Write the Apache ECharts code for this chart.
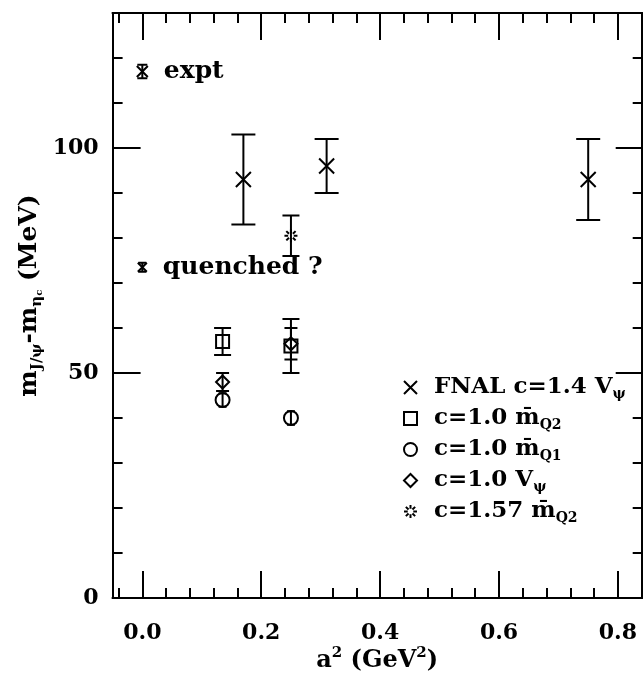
<!DOCTYPE html>
<html><head><meta charset="utf-8">
<script src="https://cdn.jsdelivr.net/npm/echarts@6/dist/echarts.min.js"></script>
<style>html,body{margin:0;padding:0;background:#fff}#c{width:643px;height:676px}</style>
</head><body><div id="c"></div>
<script>
// ---------- data ----------
const xMajorTicks = [0, 0.2, 0.4, 0.6, 0.8];
const xMinorTicks = [-0.04, 0.04, 0.08, 0.12, 0.16, 0.24, 0.28, 0.32, 0.36, 0.44, 0.48, 0.52, 0.56, 0.64, 0.68, 0.72, 0.76];
const yMajorTicks = [0, 50, 100];
const yMinorTicks = [10, 20, 30, 40, 60, 70, 80, 90, 110, 120];

const fnalX = [0.17, 0.31, 0.75];
const fnalY = [93, 96, 93];
const fnalErr = [10, 6, 9];

const sqX = [0.135, 0.25];
const sqY = [57, 56];
const sqErr = [3, 6];

const circX = [0.135, 0.25];
const circY = [44, 40];
const circErr = [1.5, 1.5];

const diaX = [0.135, 0.25];
const diaY = [48, 56.5];
const diaErr = [2, 3.5];

const c157X = [0.25];
const c157Y = [80.5];
const c157Err = [4.5];

const exptX = [0];
const exptY = [117];
const exptErr = [1.5];

const quenX = [0];
const quenY = [73.5];
const quenErr = [1];

const seriesNames = ['FNAL c=1.4 Vpsi', 'c=1.0 mQ2', 'c=1.0 mQ1', 'c=1.0 Vpsi', 'c=1.57 mQ2'];
const legendTexts = [
  '{t|FNAL c=1.4 V}{s|ψ}',
  '{t|c=1.0 m\u0304}{s|Q2}',
  '{t|c=1.0 m\u0304}{s|Q1}',
  '{t|c=1.0 V}{s|ψ}',
  '{t|c=1.57 m\u0304}{s|Q2}'
];

// ---------- style ----------
const FONT = 'DejaVu Serif';
const INK = '#000';
const CROSS = 'path://M0,0L10,10M10,0L0,10';
const BURST = 'path://M13,10L17,10M7,10L3,10M10,13L10,17M10,7L10,3M12.1,12.1L15,15M7.9,7.9L5,5M12.1,7.9L15,5M7.9,12.1L5,15';

function xAx(pos, ticks, len, withLabels, withName) {
  const a = {
    type: 'value', position: pos, min: -0.05, max: 0.84, offset: 0,
    axisLine: {show: true, onZero: false, lineStyle: {color: INK, width: 2}},
    axisTick: {show: true, inside: true, length: len, customValues: ticks, lineStyle: {color: INK, width: 2}},
    axisLabel: withLabels ? {show: true, customValues: ticks, margin: 24, formatter: v => v.toFixed(1),
      fontFamily: FONT, fontSize: 22, fontWeight: 'bold', color: INK} : {show: false},
    splitLine: {show: false}, minorTick: {show: false}
  };
  if (withName) {
    a.name = '{t|a}{p|2}{t| (GeV}{p|2}{t|)}';
    a.nameLocation = 'middle';
    a.nameGap = 48;
    a.nameMoveOverlap = false;
    a.nameTextStyle = {fontFamily: FONT, fontSize: 24, fontWeight: 'bold', color: INK,
      rich: {
        t: {fontFamily: FONT, fontSize: 24, fontWeight: 'bold', color: INK, lineHeight: 30},
        p: {fontFamily: FONT, fontSize: 15, fontWeight: 'bold', color: INK, lineHeight: 15, verticalAlign: 'top'}
      }};
  }
  return a;
}
function yAx(pos, ticks, len, withLabels, withName) {
  const a = {
    type: 'value', position: pos, min: 0, max: 130, offset: 0,
    axisLine: {show: true, onZero: false, lineStyle: {color: INK, width: 2}},
    axisTick: {show: true, inside: true, length: len, customValues: ticks, lineStyle: {color: INK, width: 2}},
    axisLabel: withLabels ? {show: true, customValues: ticks, margin: 14,
      fontFamily: FONT, fontSize: 22, fontWeight: 'bold', color: INK} : {show: false},
    splitLine: {show: false}, minorTick: {show: false}
  };
  if (withName) {
    a.name = '{t|m}{s|J/ψ}{t|-m}{s|η}{ss|c}{t| (MeV)}';
    a.nameLocation = 'middle';
    a.nameRotate = 90;
    a.nameGap = 68;
    a.nameMoveOverlap = false;
    a.nameTextStyle = {fontFamily: FONT, fontSize: 25, fontWeight: 'bold', color: INK, padding: [0, 0, 0, 20],
      rich: {
        t: {fontFamily: FONT, fontSize: 25, fontWeight: 'bold', color: INK, lineHeight: 30},
        s: {fontFamily: FONT, fontSize: 15, fontWeight: 'bold', color: INK, lineHeight: 15, verticalAlign: 'bottom'},
        ss: {fontFamily: FONT, fontSize: 10, fontWeight: 'bold', color: INK, lineHeight: 10, verticalAlign: 'bottom'}
      }};
  }
  return a;
}

function errSeries(xs, ys, es, capW) {
  return {
    type: 'custom', silent: true, z: 2,
    xAxisIndex: 0, yAxisIndex: 0,
    encode: {x: 0, y: 1},
    data: xs.map((x, i) => [x, ys[i], es[i]]),
    renderItem: function (params, api) {
      const x = api.value(0), y = api.value(1), e = api.value(2);
      const top = api.coord([x, y + e]);
      const bot = api.coord([x, y - e]);
      const h = capW / 2;
      const st = {stroke: INK, lineWidth: 2, fill: null};
      return {type: 'group', children: [
        {type: 'line', shape: {x1: top[0], y1: top[1], x2: bot[0], y2: bot[1]}, style: st},
        {type: 'line', shape: {x1: top[0] - h, y1: top[1], x2: top[0] + h, y2: top[1]}, style: st},
        {type: 'line', shape: {x1: bot[0] - h, y1: bot[1], x2: bot[0] + h, y2: bot[1]}, style: st}
      ]};
    }
  };
}
function markSeries(name, xs, ys, symbol, size, label) {
  const s = {
    type: 'scatter', name: name, silent: true, z: 3,
    xAxisIndex: 0, yAxisIndex: 0,
    data: xs.map((x, i) => [x, ys[i]]),
    symbol: symbol, symbolSize: size,
    itemStyle: {color: 'rgba(0,0,0,0)', borderColor: INK, borderWidth: 2, opacity: 1}
  };
  if (label) {
    s.label = {show: true, position: 'right', distance: 15, formatter: label,
      fontFamily: FONT, fontSize: 25, fontWeight: 'bold', color: INK};
  }
  return s;
}

const legendIcons = [CROSS, 'rect', 'circle', 'diamond', BURST];
const legendCenters = [390, 421, 452, 483, 514];
const legends = seriesNames.map((n, i) => ({
  show: true, selectedMode: false, orient: 'vertical',
  left: 403, top: legendCenters[i] - 14, padding: 0,
  itemWidth: 13, itemHeight: 13,
  data: [{name: n, icon: legendIcons[i]}],
  itemStyle: {color: 'rgba(0,0,0,0)', borderColor: INK, borderWidth: 2},
  formatter: () => legendTexts[i],
  textStyle: {fontFamily: FONT, fontSize: 23, fontWeight: 'bold', color: INK, padding: [0, 0, 0, 12],
    rich: {
      t: {fontFamily: FONT, fontSize: 23, fontWeight: 'bold', color: INK, lineHeight: 28},
      s: {fontFamily: FONT, fontSize: 14, fontWeight: 'bold', color: INK, lineHeight: 14, verticalAlign: 'bottom'}
    }}
}));

const chart = echarts.init(document.getElementById('c'), null, {renderer: 'canvas'});
chart.setOption({
  animation: false,
  backgroundColor: '#fff',
  grid: {left: 112.6, right: 1.3, top: 13, bottom: 78, containLabel: false, outerBoundsMode: 'none'},
  legend: legends,
  xAxis: [
    xAx('bottom', xMajorTicks, 27, true, true),
    xAx('bottom', xMinorTicks, 10, false, false),
    xAx('top', xMajorTicks, 27, false, false),
    xAx('top', xMinorTicks, 10, false, false)
  ],
  yAxis: [
    yAx('left', yMajorTicks, 28, true, true),
    yAx('left', yMinorTicks, 10, false, false),
    yAx('right', yMajorTicks, 26, false, false),
    yAx('right', yMinorTicks, 9, false, false)
  ],
  series: [
    errSeries(fnalX, fnalY, fnalErr, 24),
    errSeries(sqX, sqY, sqErr, 17),
    errSeries(circX, circY, circErr, 8),
    errSeries(diaX, diaY, diaErr, 13),
    errSeries(c157X, c157Y, c157Err, 17),
    errSeries(exptX, exptY, exptErr, 10),
    errSeries(quenX, quenY, quenErr, 8),
    markSeries(seriesNames[0], fnalX, fnalY, CROSS, 15),
    markSeries(seriesNames[1], sqX, sqY, 'rect', 13),
    markSeries(seriesNames[2], circX, circY, 'circle', 14),
    markSeries(seriesNames[3], diaX, diaY, 'diamond', 13),
    markSeries(seriesNames[4], c157X, c157Y, BURST, 13),
    markSeries('expt', exptX, exptY, CROSS, 11, 'expt'),
    markSeries('quenched', quenX, quenY, CROSS, 9, 'quenched ?')
  ]
});
</script></body></html>
